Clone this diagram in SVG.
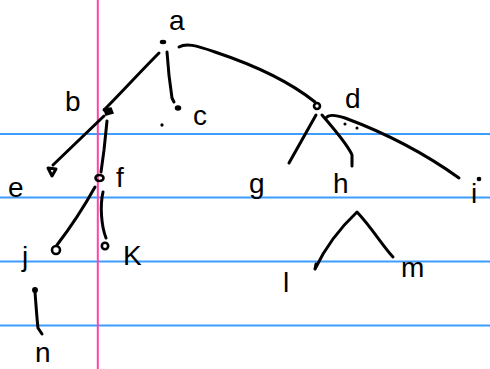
<svg xmlns="http://www.w3.org/2000/svg" width="490" height="369" viewBox="0 0 490 369">
<style>
.rule{stroke:#3d9dff;stroke-width:2;}
.margin{stroke:#ff44a6;stroke-width:2;}
.ink{fill:none;stroke:#000;stroke-width:3;stroke-linecap:round;stroke-linejoin:round;}
.dot{fill:#000;stroke:#000;stroke-width:1.5;}
.ring{fill:none;stroke:#000;stroke-width:2.6;}
.lbl{font-family:"Liberation Sans",Arial,sans-serif;fill:#000;font-size:28px;}
</style>
<rect width="490" height="369" fill="#fff"/>
<g id="paper">
<line class="rule" x1="0" y1="134" x2="490" y2="134"/>
<line class="rule" x1="0" y1="197.5" x2="490" y2="197.5"/>
<line class="rule" x1="0" y1="261.5" x2="490" y2="261.5"/>
<line class="rule" x1="0" y1="325.5" x2="490" y2="325.5"/>
<line class="margin" x1="97.8" y1="0" x2="97.8" y2="369"/>
</g>
<g id="connectors">
<path class="ink" d="M159,53 C140,72 122,92 104,110"/>
<path class="ink" d="M167,52 C168,68 170,85 172,98 L174,102"/>
<path class="ink" d="M179,47 C186,43 195,45 215,52 C245,62 285,78 315,102"/>
<path class="ink" d="M316,115 L289,163"/>
<path class="ink" d="M322,115 C335,130 348,145 352,155 L352,166"/>
<path class="ink" d="M326,118 C328,115 333,114 345,118 C380,131 420,150 459,178"/>
<path class="ink" d="M104,116 L53,165"/>
<path class="ink" d="M107,121 L104,150 L101,172"/>
<path class="ink" d="M95,187 C85,205 70,228 57,245"/>
<path class="ink" d="M103,192 C100,205 101,225 106,238"/>
<path class="ink" d="M35,292 C36,305 37,320 38,328 L42,334"/>
<path class="ink" d="M316,264 L315,269 C325,248 340,228 357,212 C372,228 382,245 393,257"/>
<circle class="dot" cx="345" cy="124" r="0.8"/>
<circle class="dot" cx="357" cy="128" r="0.8"/>
<circle class="dot" cx="162" cy="125" r="0.9"/>
</g>
<g id="node-a"><ellipse class="dot" cx="163" cy="42" rx="2.5" ry="1.5"/><text class="lbl" x="169" y="30">a</text></g>
<g id="node-b"><path class="dot" d="M104,109 L111,108 L113,113 L106,115 Z"/><text class="lbl" x="65" y="111" font-size="30">b</text></g>
<g id="node-c"><ellipse class="dot" cx="178" cy="108" rx="2.5" ry="2"/><text class="lbl" x="193" y="125">c</text></g>
<g id="node-d"><circle class="ring" cx="317" cy="106" r="3"/><text class="lbl" x="345" y="108">d</text></g>
<g id="node-e"><path class="ink" d="M48,168 L56,169 L52,176 Z"/><text class="lbl" x="8" y="197">e</text></g>
<g id="node-f"><ellipse class="ring" cx="99.5" cy="178" rx="4" ry="3"/><text class="lbl" x="116" y="187" font-size="32">f</text></g>
<g id="node-g"><text class="lbl" x="249" y="193">g</text></g>
<g id="node-h"><text class="lbl" x="333" y="193" font-size="30">h</text></g>
<g id="node-i"><circle class="dot" cx="479" cy="179" r="1.6"/><text class="lbl" x="471" y="203">i</text></g>
<g id="node-j"><circle class="ring" cx="56" cy="250" r="4"/><text class="lbl" x="22" y="266" font-size="30">j</text></g>
<g id="node-k"><circle class="ring" cx="105" cy="246" r="3.2"/><text class="lbl" x="123" y="265">K</text></g>
<g id="node-l"><text class="lbl" x="283" y="292" font-size="34">l</text></g>
<g id="node-m"><text class="lbl" x="401" y="277" font-size="26">m</text></g>
<g id="node-n"><circle class="dot" cx="35" cy="290" r="2.2"/><text class="lbl" x="35" y="362" font-size="24">n</text></g>
</svg>
